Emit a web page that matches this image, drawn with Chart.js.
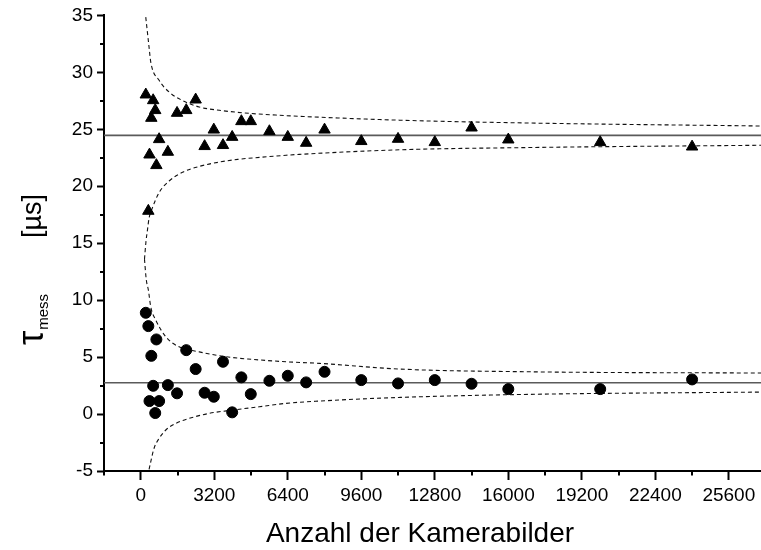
<!DOCTYPE html>
<html>
<head>
<meta charset="utf-8">
<script src="https://cdn.jsdelivr.net/npm/chart.js@4.4.1/dist/chart.umd.min.js"></script>
<style>
  html, body { margin: 0; padding: 0; background: #fff; }
  #wrap { width: 761px; height: 550px; }
</style>
</head>
<body>
<div id="wrap"><canvas id="chart" width="761" height="550"></canvas></div>
<script>
// Number of camera frames for each measurement
const frameCounts = [220, 330, 380, 460, 540, 630, 680, 800, 1180, 1580, 1980, 2390, 2780, 3180,
  3580, 3980, 4380, 4790, 5600, 6400, 7200, 8000, 9600, 11200, 12800, 14400, 16000, 20000, 24000];

// Measured decay time, series 1 (triangles) and series 2 (circles), in µs
const tauTriangles = [28.04, 17.83, 22.77, 25.99, 27.54, 26.67, 21.84, 24.12, 23.01, 26.43, 26.67, 27.6, 23.51, 24.96,
  23.6, 24.32, 25.7, 25.7, 24.82, 24.32, 23.8, 24.96, 23.95, 24.15, 23.86, 25.14, 24.09, 23.86, 23.47];
const tauCircles = [8.89, 7.72, 1.14, 5.11, 2.48, 0.09, 6.55, 1.14, 2.54, 1.82, 5.61, 3.95, 1.87, 1.52,
  4.59, 0.15, 3.22, 1.75, 2.92, 3.36, 2.78, 3.71, 2.98, 2.69, 2.98, 2.66, 2.19, 2.19, 3.04];

// Reference values (solid lines)
const meanTriangles = 24.47;
const meanCircles = 2.75;

// Dashed confidence bands
const bandTriUpperN = [218, 362, 436, 799, 1235, 1802, 2544, 3417, 4727, 6036, 6908, 11270, 16950, 27000];
const bandTriUpperV = [34.85, 32.2, 30.9, 29.3, 28.27, 27.54, 26.96, 26.67, 26.4, 26.23, 26.14, 25.8, 25.55, 25.29];
const bandTriLowerN = [162, 230, 288, 362, 506, 799, 1235, 1815, 2544, 3417, 4216, 4857, 6328, 6908, 11270, 16950, 27000];
const bandTriLowerV = [13.6, 15.2, 16.1, 17.2, 18.1, 19.45, 20.46, 21.22, 21.74, 22.12, 22.36, 22.48, 22.72, 22.8, 23.2, 23.4, 23.6];
const bandCircUpperN = [162, 240, 332, 436, 655, 1091, 1671, 2544, 3710, 4870, 6328, 7781, 11270, 16950, 27000];
const bandCircUpperV = [13.6, 11.8, 10.88, 9.41, 8.25, 6.78, 5.9, 5.46, 5.03, 4.8, 4.59, 4.45, 3.95, 3.71, 3.6];
const bandCircLowerN = [362, 580, 799, 1091, 1527, 2108, 2981, 3998, 5162, 6328, 7781, 11270, 16950, 27000];
const bandCircLowerV = [-4.85, -3.0, -2.14, -1.4, -0.82, -0.38, 0.06, 0.35, 0.64, 0.94, 1.14, 1.46, 1.73, 1.93];

// Axis ticks
const xMin = -1600, xMax = 27000, yMin = -5, yMax = 35;
const xTickValues = [0, 3200, 6400, 9600, 12800, 16000, 19200, 22400, 25600];
const xMinorValues = [-1600, 1600, 4800, 8000, 11200, 14400, 17600, 20800, 24000];
const yTickValues = [-5, 0, 5, 10, 15, 20, 25, 30, 35];
const yMinorValues = [-2.5, 2.5, 7.5, 12.5, 17.5, 22.5, 27.5, 32.5];

const xTitle = 'Anzahl der Kamerabilder';
const yTitleMain = 'τ';
const yTitleSub = 'mess';
const yTitleUnit = '[µs]';

const FONT = '"Liberation Sans", Arial, sans-serif';

const pairs = (xs, ys) => xs.map((x, i) => ({ x: x, y: ys[i] }));
const flat = (v) => [{ x: xMin, y: v }, { x: xMax, y: v }];

const dashed = (data) => ({
  type: 'line', data: data, borderColor: '#111', borderWidth: 1.1, borderDash: [4, 3],
  pointRadius: 0, cubicInterpolationMode: 'monotone', fill: false, order: 3
});
const solid = (data) => ({
  type: 'line', data: data, borderColor: '#5a5a5a', borderWidth: 1.6,
  pointRadius: 0, fill: false, order: 2
});

// Minor ticks and the axis titles (the y title has a subscript)
const decorations = {
  id: 'decorations',
  afterDraw(chart) {
    const { ctx, chartArea, scales } = chart;
    const x = scales.x, y = scales.y;
    ctx.save();
    ctx.strokeStyle = '#000';
    ctx.lineWidth = 2;
    xMinorValues.forEach(v => {
      const px = Math.round(x.getPixelForValue(v));
      ctx.beginPath();
      ctx.moveTo(px, chartArea.bottom);
      ctx.lineTo(px, chartArea.bottom + 4.5);
      ctx.stroke();
    });
    yMinorValues.forEach(v => {
      const py = Math.round(y.getPixelForValue(v));
      ctx.beginPath();
      ctx.moveTo(chartArea.left, py);
      ctx.lineTo(chartArea.left - 4, py);
      ctx.stroke();
    });

    ctx.fillStyle = '#000';
    ctx.font = '28px ' + FONT;
    ctx.textAlign = 'center';
    ctx.textBaseline = 'alphabetic';
    ctx.fillText(xTitle, 420, 542);

    ctx.translate(41, 0);
    ctx.rotate(-Math.PI / 2);
    ctx.textAlign = 'left';
    ctx.font = '36px ' + FONT;
    const tauStart = -345;
    ctx.fillText(yTitleMain, tauStart, 2);
    const tauW = ctx.measureText(yTitleMain).width;
    ctx.font = '15px ' + FONT;
    ctx.fillText(yTitleSub, tauStart + tauW + 1, 7);
    ctx.font = '27px ' + FONT;
    ctx.fillText(yTitleUnit, -238, 0);
    ctx.restore();
  }
};

new Chart(document.getElementById('chart'), {
  type: 'scatter',
  data: {
    datasets: [
      {
        label: 'Dreiecke', data: pairs(frameCounts, tauTriangles), pointStyle: 'triangle',
        pointRadius: 6.6, pointHoverRadius: 6.6, backgroundColor: '#000', borderColor: '#000', borderWidth: 1, order: 1
      },
      {
        label: 'Kreise', data: pairs(frameCounts, tauCircles), pointStyle: 'circle',
        pointRadius: 5.5, pointHoverRadius: 5.5, backgroundColor: '#000', borderColor: '#000', borderWidth: 1, order: 1
      },
      solid(flat(meanTriangles)),
      solid(flat(meanCircles)),
      dashed(pairs(bandTriUpperN, bandTriUpperV)),
      dashed(pairs(bandTriLowerN, bandTriLowerV)),
      dashed(pairs(bandCircUpperN, bandCircUpperV)),
      dashed(pairs(bandCircLowerN, bandCircLowerV))
    ]
  },
  options: {
    responsive: false,
    animation: false,
    devicePixelRatio: 1,
    layout: { autoPadding: false, padding: { top: 15, right: 0, bottom: 0, left: 0 } },
    plugins: { legend: { display: false }, tooltip: { enabled: false } },
    events: [],
    scales: {
      x: {
        type: 'linear', position: 'bottom', min: xMin, max: xMax,
        afterBuildTicks: (s) => { s.ticks = xTickValues.map(v => ({ value: v })); },
        afterFit: (s) => { s.height = 79; s.paddingLeft = 0; s.paddingRight = 0; },
        grid: { drawOnChartArea: false, drawTicks: true, tickLength: 9, tickWidth: 2, tickColor: '#000' },
        border: { display: true, color: '#000', width: 2 },
        ticks: {
          color: '#000', font: { family: FONT, size: 19 }, padding: 4,
          maxRotation: 0, autoSkip: false, callback: (v) => String(v)
        }
      },
      y: {
        type: 'linear', min: yMin, max: yMax,
        afterBuildTicks: (s) => { s.ticks = yTickValues.map(v => ({ value: v })); },
        afterFit: (s) => { s.width = 104; },
        grid: { drawOnChartArea: false, drawTicks: true, tickLength: 7, tickWidth: 2, tickColor: '#000' },
        border: { display: true, color: '#000', width: 2 },
        ticks: {
          color: '#000', font: { family: FONT, size: 19 }, padding: 4,
          autoSkip: false, callback: (v) => String(v)
        }
      }
    }
  },
  plugins: [decorations]
});
</script>
</body>
</html>
